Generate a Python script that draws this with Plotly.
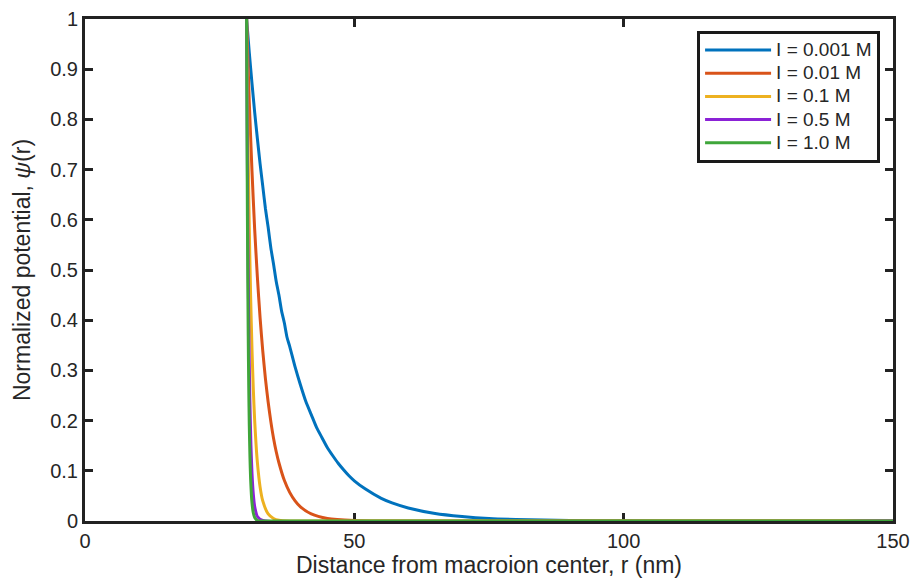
import plotly.graph_objects as go

# Values (r in nm, normalized potential psi)
r_001 = [30, 30.5, 31, 31.5, 32, 32.5, 33, 33.5, 34, 34.5, 35, 35.5, 36, 36.5, 37, 37.5, 38, 39, 40,
         41, 42, 43, 44, 45, 46, 47, 48, 49, 50, 52, 55, 57, 60, 65, 70, 75, 80, 90, 100, 120, 150]
psi_001 = [1.0, 0.933, 0.872, 0.814, 0.762, 0.712, 0.667, 0.622, 0.585, 0.544, 0.512, 0.477, 0.450, 0.418,
           0.395, 0.366, 0.348, 0.307, 0.271, 0.238, 0.212, 0.186, 0.166, 0.146, 0.130, 0.115, 0.102, 0.090,
           0.080, 0.064, 0.045, 0.036, 0.026, 0.015, 0.009, 0.005, 0.003, 0.001, 0.0004, 0.0, 0.0]

r_01 = [30, 30.5, 31, 31.5, 32, 32.5, 33, 33.5, 34, 34.5, 35, 35.5, 36, 37, 38, 39, 40, 42, 45, 50, 55, 150]
psi_01 = [1.0, 0.834, 0.697, 0.581, 0.486, 0.405, 0.339, 0.283, 0.237, 0.198, 0.165, 0.138, 0.116, 0.081,
          0.057, 0.040, 0.028, 0.014, 0.005, 0.001, 0.0, 0.0]

r_1 = [30, 30.25, 30.5, 30.75, 31, 31.25, 31.5, 31.75, 32, 32.5, 33, 34, 35, 36, 38, 150]
psi_1 = [1.0, 0.764, 0.584, 0.447, 0.342, 0.262, 0.200, 0.153, 0.117, 0.068, 0.040, 0.014, 0.005, 0.0015, 0.0, 0.0]

r_5 = [30, 30.1, 30.2, 30.3, 30.4, 30.6, 30.8, 31, 31.25, 31.5, 32, 33, 150]
psi_5 = [1.0, 0.790, 0.624, 0.493, 0.389, 0.243, 0.152, 0.095, 0.053, 0.029, 0.009, 0.001, 0.0]

r_10 = [30, 30.075, 30.15, 30.225, 30.3, 30.4, 30.5, 30.625, 30.75, 31, 31.25, 31.5, 32, 33, 150]
psi_10 = [1.0, 0.779, 0.607, 0.473, 0.369, 0.265, 0.190, 0.126, 0.083, 0.036, 0.016, 0.007, 0.001, 0.0, 0.0]

series_names = ["I = 0.001 M", "I = 0.01 M", "I = 0.1 M", "I = 0.5 M", "I = 1.0 M"]
series_x = [r_001, r_01, r_1, r_5, r_10]
series_y = [psi_001, psi_01, psi_1, psi_5, psi_10]
colors = ["#0072BD", "#D95319", "#EDB120", "#8B22D6", "#3FA63A"]

x_ticks = [0, 50, 100, 150]
y_ticks = [0, 0.1, 0.2, 0.3, 0.4, 0.5, 0.6, 0.7, 0.8, 0.9, 1]
y_tick_text = ["0", "0.1", "0.2", "0.3", "0.4", "0.5", "0.6", "0.7", "0.8", "0.9", "1"]

FONT = "Liberation Sans, Arial, Helvetica, sans-serif"

fig = go.Figure()
for name, xs, ys, c in zip(series_names, series_x, series_y, colors):
    fig.add_trace(go.Scatter(x=xs, y=ys, mode="lines",
                             name="<span style='font-size:19px'>" + name + "</span>",
                             line=dict(color=c, width=3, shape="spline", smoothing=0.6)))

axis_common = dict(
    showline=True, linecolor="#222222", linewidth=3, mirror="ticks",
    ticks="inside", ticklen=8, tickwidth=2.5, tickcolor="#222222",
    showgrid=False, zeroline=False, automargin=False,
    tickfont=dict(family=FONT, size=20, color="#262626"),
    layer="below traces",
)

fig.update_layout(
    width=912, height=578,
    margin=dict(l=85, r=19, t=19, b=57),
    paper_bgcolor="white", plot_bgcolor="white",
    font=dict(family=FONT, color="#262626"),
    xaxis=dict(range=[0, 150], tickvals=x_ticks,
               title=dict(text="Distance from macroion center, r (nm)",
                          font=dict(size=23, color="#262626"), standoff=9),
               **axis_common),
    yaxis=dict(range=[0, 1], tickvals=y_ticks, ticktext=y_tick_text,
               title=dict(text="Normalized potential, <i>ψ</i>(r)",
                          font=dict(size=23, color="#262626"), standoff=14),
               **axis_common),
    legend=dict(x=0.984, y=0.977, xanchor="right", yanchor="top",
                bgcolor="white", bordercolor="#1a1a1a", borderwidth=3,
                font=dict(family=FONT, size=15.5, color="#262626"),
                tracegroupgap=0, itemwidth=66),
    showlegend=True,
)

fig.write_html("out.html",
               config={"displayModeBar": False},
               post_script="document.body.style.margin='0';document.body.style.overflow='hidden';")
